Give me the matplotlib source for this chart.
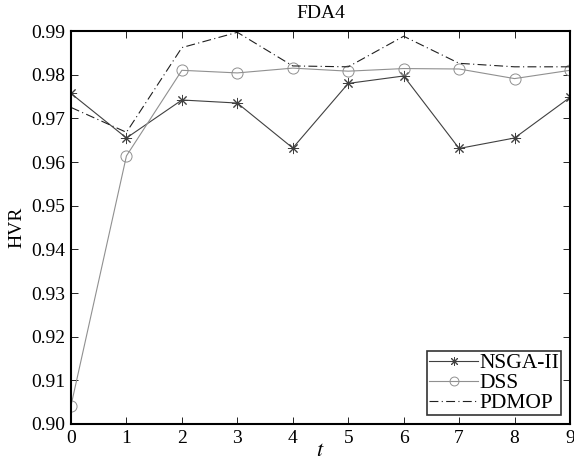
import matplotlib
matplotlib.use("Agg")
import matplotlib.pyplot as plt

t = list(range(10))
nsga = [0.9757, 0.9655, 0.9742, 0.9735, 0.9632, 0.9780, 0.9797, 0.9631, 0.9655, 0.9748]
dss = [0.9042, 0.9614, 0.9810, 0.9804, 0.9815, 0.9808, 0.9814, 0.9813, 0.9791, 0.9810]
pdmop = [0.9725, 0.9668, 0.9862, 0.9897, 0.9820, 0.9818, 0.9888, 0.9826, 0.9818, 0.9818]
yticks = [0.90, 0.91, 0.92, 0.93, 0.94, 0.95, 0.96, 0.97, 0.98, 0.99]

plt.rcParams['font.family'] = ['Liberation Serif']
plt.rcParams['mathtext.fontset'] = 'stix'

fig = plt.figure(figsize=(5.74, 4.62), dpi=100)
ax = fig.add_axes([71/574, 1-424/462, 499/574, (424-31)/462])

ax.plot(t, nsga, color='#404040', lw=0.8, marker=(8, 2, 0), ms=8, mew=0.7, label='NSGA-II')
ax.plot(t, dss, color='#909090', lw=0.8, marker='o', ms=8, mfc='none', mew=0.7, label='DSS')
ax.plot(t, pdmop, color='#202020', lw=0.8, ls=(0, (8, 3, 1, 3)), label='PDMOP')

ax.set_xlim(0, 9)
ax.set_ylim(0.90, 0.99)
ax.set_xticks(t)
ax.set_yticks(yticks)
ax.set_yticklabels([f"{v:.2f}" for v in yticks])
ax.tick_params(direction='in', top=True, right=True, labelsize=14, length=5, width=0.6, pad=4)
for s in ax.spines.values():
    s.set_linewidth(1.5)
ax.set_title('FDA4', fontsize=14, pad=9)
ax.set_xlabel('$t$', fontsize=16, labelpad=-3)
ax.set_ylabel('HVR', fontsize=14, labelpad=4)

leg = ax.legend(loc='lower right', fontsize=15.5, frameon=True, fancybox=False, edgecolor='black',
                borderpad=0.1, labelspacing=0.0, handlelength=2.3, handletextpad=0.05,
                borderaxespad=0.4, markerscale=0.8)
leg.get_frame().set_linewidth(1.2)

fig.savefig('out.png', dpi=100)
